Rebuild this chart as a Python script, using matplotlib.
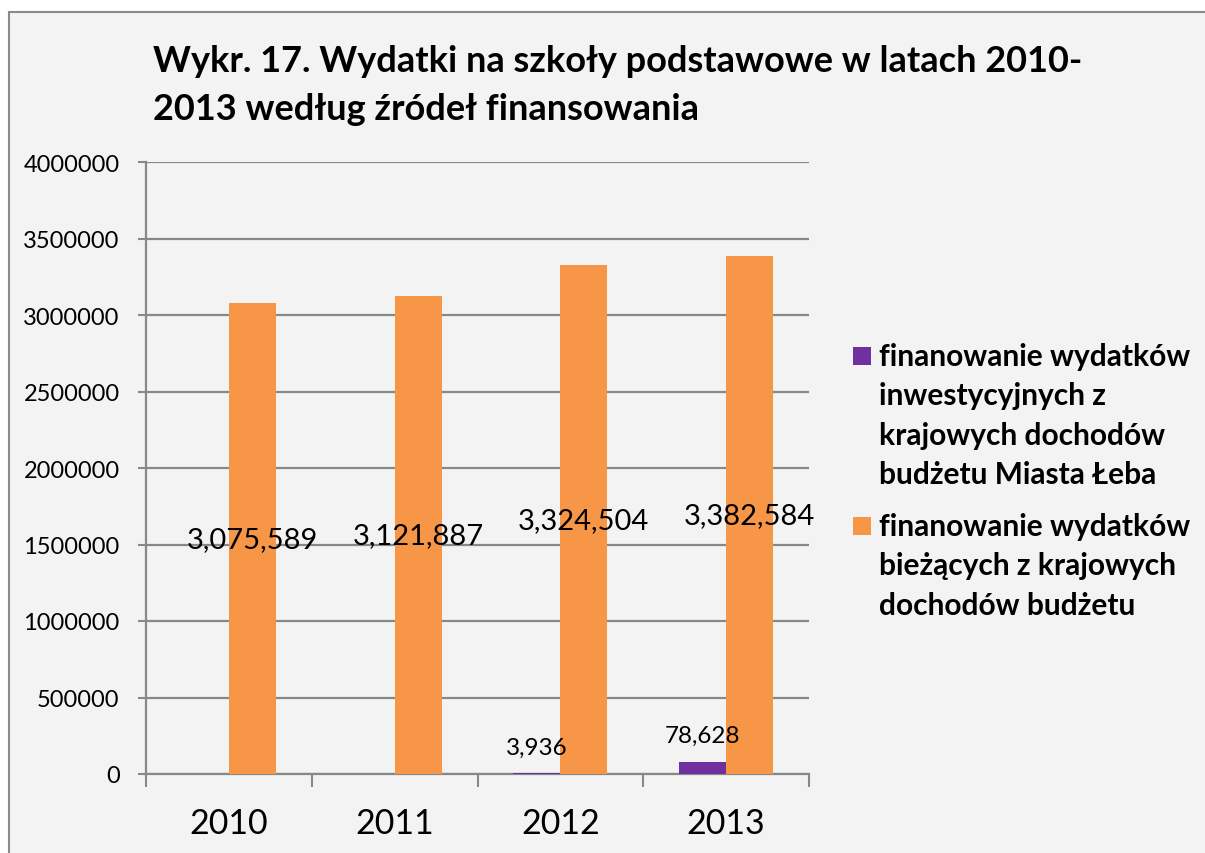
import matplotlib
matplotlib.use("Agg")
import matplotlib.pyplot as plt
from matplotlib.patches import Rectangle
import numpy as np

years = ["2010", "2011", "2012", "2013"]
inwestycyjne = [0, 0, 3936, 78628]
biezace = [3075589, 3121887, 3324504, 3382584]
series_labels = [
    "finanowanie wydatków\ninwestycyjnych z\nkrajowych dochodów\nbudżetu Miasta Łeba",
    "finanowanie wydatków\nbieżących z krajowych\ndochodów budżetu",
]
title = "Wykr. 17. Wydatki na szkoły podstawowe w latach 2010-\n2013 według źródeł finansowania"
yticks = [0, 500000, 1000000, 1500000, 2000000, 2500000, 3000000, 3500000, 4000000]

PURPLE = "#7030A0"
ORANGE = "#F79646"
GRID = "#888888"
BG = "#F3F3F3"

plt.rcParams["font.family"] = ["Lato", "DejaVu Sans"]

W, H = 1205, 854
fig = plt.figure(figsize=(W / 100, H / 100), dpi=100, facecolor="white")

# chart area background with border (extends beyond image on right/bottom)
fig.patches.append(Rectangle((9 / W, -0.05), 1.2, 1 - 13 / H + 0.05,
                             transform=fig.transFigure, facecolor=BG,
                             edgecolor="#8A8A8A", linewidth=1.5, zorder=-5))

ax = fig.add_axes([146 / W, 1 - 775 / H, (809 - 146) / W, (775 - 163) / H])
ax.set_facecolor("none")
ax.set_zorder(2)

x = np.arange(len(years))
bw = 0.283
b1 = ax.bar(x - bw / 2, inwestycyjne, bw, color=PURPLE, zorder=3)
b2 = ax.bar(x + bw / 2, biezace, bw, color=ORANGE, zorder=3)

ax.set_ylim(0, 4000000)
ax.set_xlim(-0.5, len(years) - 0.5)
ax.set_yticks(yticks)
ax.set_yticklabels([str(v) for v in yticks], fontsize=17)
ax.yaxis.grid(True, color=GRID, linewidth=1.6, zorder=1)
ax.set_axisbelow(True)

ax.set_xticks(x)
ax.set_xticklabels(years, fontsize=24.5)
ax.set_xticks(np.arange(len(years) + 1) - 0.5, minor=True)
ax.tick_params(axis="x", which="major", length=0, pad=24)
ax.tick_params(axis="x", which="minor", length=9, width=1.5, color=GRID)
ax.tick_params(axis="y", length=6, width=1.5, color=GRID, pad=13)

for s in ["top", "right"]:
    ax.spines[s].set_visible(False)
for s in ["left", "bottom"]:
    ax.spines[s].set_color(GRID)
    ax.spines[s].set_linewidth(1.6)

# data labels
for rect, v in zip(b2, biezace):
    ax.text(rect.get_x() + rect.get_width() / 2, v / 2, f"{v:,}",
            ha="center", va="center", fontsize=21, zorder=5)
for rect, v in zip(b1, inwestycyjne):
    if v:
        ax.annotate(f"{v:,}", (rect.get_x() + rect.get_width() / 2, v),
                    xytext=(0, 19), textcoords="offset points",
                    ha="center", va="center", fontsize=17.5, zorder=5)

# title
fig.text(153 / W, 1 - 45 / H, title, ha="left", va="top", fontsize=26,
         fontweight="bold", linespacing=1.56)

# legend (manual, marker aligned with first line)
leg_y = [357, 527]
for lbl, col, yy in zip(series_labels, [PURPLE, ORANGE], leg_y):
    fig.patches.append(Rectangle((853 / W, 1 - (yy + 9) / H), 18 / W, 18 / H,
                                 transform=fig.transFigure, facecolor=col,
                                 edgecolor="none", zorder=3))
    fig.text(879 / W, 1 - (yy - 14) / H, lbl, ha="left", va="top",
             fontsize=21.5, fontweight="bold", linespacing=1.5)

fig.savefig("out.png", dpi=100, facecolor="white")
